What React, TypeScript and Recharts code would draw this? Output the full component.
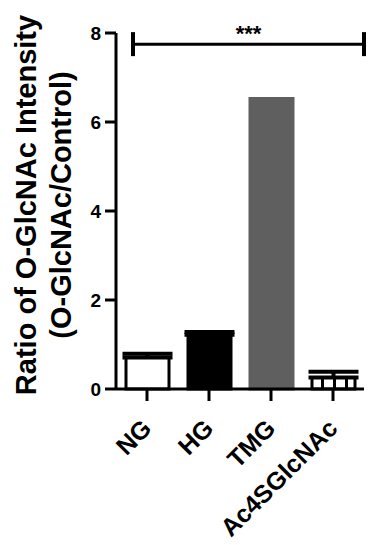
import React from 'react';
import { BarChart, Bar, XAxis, YAxis, ErrorBar, Cell, ReferenceLine } from 'recharts';

const groups = ['NG', 'HG', 'TMG', 'Ac4SGlcNAc'];
const ratio = [0.71, 1.22, 6.53, 0.26];
const sem = [0.08, 0.06, null, 0.13];
const yTicks = [0, 2, 4, 6, 8];
const sigLevel = 7.75;
const sigText = '***';

const fills = ['#ffffff', '#000000', '#5f5f5f', 'url(#ac4pattern)'];
const strokes = ['#000000', '#000000', '#5f5f5f', '#000000'];

const FONT = "Arial, 'Liberation Sans', sans-serif";

const data = groups.map((g, i) => ({
  name: g,
  value: ratio[i],
  err: sem[i] == null ? null : [0, sem[i]],
}));

// rotated category labels, text end sits just right of the tick
function XTick(props: any) {
  const { x, y, payload } = props;
  return (
    <g transform={`translate(${x + 6},${y + 27})`}>
      <text
        x={0}
        y={0}
        textAnchor="end"
        transform="rotate(-45)"
        fontFamily={FONT}
        fontWeight="bold"
        fontSize={25}
        fill="#000"
      >
        {payload.value}
      </text>
    </g>
  );
}

function YLabel() {
  const cy = 205;
  return (
    <g fontFamily={FONT} fontWeight="bold" fontSize={29} fill="#000">
      <text x={36} y={cy} textAnchor="middle" transform={`rotate(-90, 36, ${cy})`}>
        Ratio of O-GlcNAc Intensity
      </text>
      <text x={71} y={cy} textAnchor="middle" transform={`rotate(-90, 71, ${cy})`}>
        (O-GlcNAc/Control)
      </text>
    </g>
  );
}

function SigBar(props: any) {
  const { x1, x2, y1 } = props;
  const left = x1 + 17;
  const right = x2;
  return (
    <g>
      <line x1={left} y1={y1} x2={right} y2={y1} stroke="#000" strokeWidth={3} />
      <line x1={left} y1={y1 - 12} x2={left} y2={y1 + 12} stroke="#000" strokeWidth={4} />
      <line x1={right} y1={y1 - 12} x2={right} y2={y1 + 12} stroke="#000" strokeWidth={4} />
      <text
        x={(left + right) / 2}
        y={y1 - 3}
        textAnchor="middle"
        fontFamily={FONT}
        fontWeight="bold"
        fontSize={22}
        fill="#000"
      >
        {sigText}
      </text>
    </g>
  );
}

export default function App() {
  return (
    <div style={{ position: 'absolute', left: 0, top: 0, background: '#fff' }}>
      <BarChart
        width={368}
        height={545}
        data={data}
        margin={{ top: 33, right: 4, bottom: 56, left: 0 }}
      >
        <defs>
          <pattern id="ac4pattern" width="12" height="6" patternUnits="userSpaceOnUse">
            <rect x="0" y="0" width="12" height="6" fill="#ffffff" />
            <rect x="9" y="0" width="3" height="6" fill="#000000" />
          </pattern>
        </defs>
        <XAxis
          dataKey="name"
          height={100}
          interval={0}
          tick={(p: any) => <XTick {...p} />}
          axisLine={{ stroke: '#000', strokeWidth: 3 }}
          tickLine={{ stroke: '#000', strokeWidth: 3 }}
          tickSize={12}
        />
        <YAxis
          width={116}
          domain={[0, 8]}
          ticks={yTicks}
          interval={0}
          axisLine={{ stroke: '#000', strokeWidth: 3 }}
          tickLine={{ stroke: '#000', strokeWidth: 3 }}
          tickSize={11}
          tickMargin={4}
          tick={{ fill: '#000', fontFamily: FONT, fontWeight: 'bold', fontSize: 19 }}
          label={<YLabel />}
        />
        <ReferenceLine y={sigLevel} stroke="#000" shape={<SigBar />} ifOverflow="visible" />
        <Bar dataKey="value" barSize={43} strokeWidth={3} isAnimationActive={false}>
          {data.map((d, i) => (
            <Cell key={d.name} fill={fills[i]} stroke={strokes[i]} />
          ))}
          <ErrorBar dataKey="err" width={25} stroke="#000" strokeWidth={4} direction="y" />
        </Bar>
      </BarChart>
    </div>
  );
}
